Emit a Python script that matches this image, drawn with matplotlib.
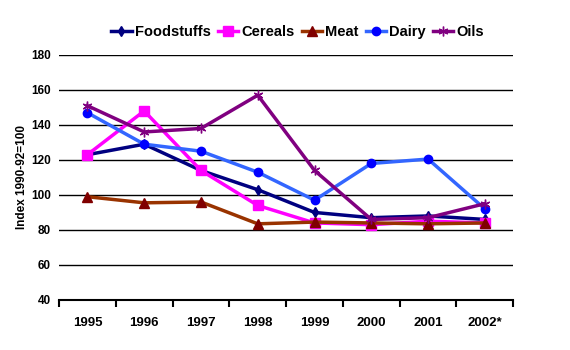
import numpy as np
import matplotlib.pyplot as plt

plt.rcParams['font.family'] = ['Liberation Sans', 'DejaVu Sans']
plt.rcParams['font.weight'] = 'bold'

years = ["1995", "1996", "1997", "1998", "1999", "2000", "2001", "2002*"]
foodstuffs = [123, 129, 114, 103, 90, 87, 88, 86]
cereals = [123, 148, 114, 94, 84, 83, 85, 84]
meat = [99, 95.5, 96, 83.5, 84.5, 84, 83.5, 84]
dairy = [147, 129, 125, 113, 97, 118, 120.5, 92]
oils = [151, 136, 138, 157, 114, 86, 87, 95]

fig = plt.figure(figsize=(5.7, 3.5), dpi=100)
ax = fig.add_axes([0.1035, 0.143, 0.797, 0.7])

x = np.arange(len(years))
ax.plot(x, foodstuffs, color="#000080", lw=2.5, marker="d", ms=5, label="Foodstuffs")
ax.plot(x, cereals, color="#FF00FF", lw=2.5, marker="s", ms=7, label="Cereals")
ax.plot(x, meat, color="#993300", lw=2.5, marker="^", ms=7, mfc="#800000", mec="#800000", label="Meat")
ax.plot(x, dairy, color="#3366FF", lw=2.5, marker="o", ms=6, mfc="#0000FF", mec="#0000FF", label="Dairy")
ax.plot(x, oils, color="#800080", lw=2.5, marker=(6, 2, 0), ms=7, mew=1, label="Oils")

ax.set_xlim(-0.5, len(years) - 0.5)
ax.set_ylim(40, 180)
ax.set_yticks(range(40, 181, 20))
ax.yaxis.grid(True, color="black", lw=1)
ax.set_axisbelow(True)
ax.set_xticks(np.arange(-0.5, len(years), 1))
ax.set_xticklabels([])
ax.set_xticks(x, minor=True)
ax.set_xticklabels(years, minor=True, fontsize=9.5, fontweight="bold")
ax.tick_params(axis="x", which="major", direction="out", length=5, width=1.5)
ax.tick_params(axis="x", which="minor", length=0, pad=12)
ax.tick_params(axis="y", length=0, labelsize=8.5, pad=6)
for lab in ax.get_yticklabels():
    lab.set_fontweight("bold")
for s in ["top", "right", "left"]:
    ax.spines[s].set_visible(False)
ax.spines["bottom"].set_linewidth(1.5)
ax.set_ylabel("Index 1990-92=100", fontsize=8.5, fontweight="bold", labelpad=2)

fig.legend(loc="upper center", bbox_to_anchor=(0.522, 0.965), ncol=5, frameon=False,
           handlelength=1.4, handletextpad=0.2, columnspacing=0.5,
           prop={"weight": "bold", "size": 10.5})

plt.savefig("out.png")
